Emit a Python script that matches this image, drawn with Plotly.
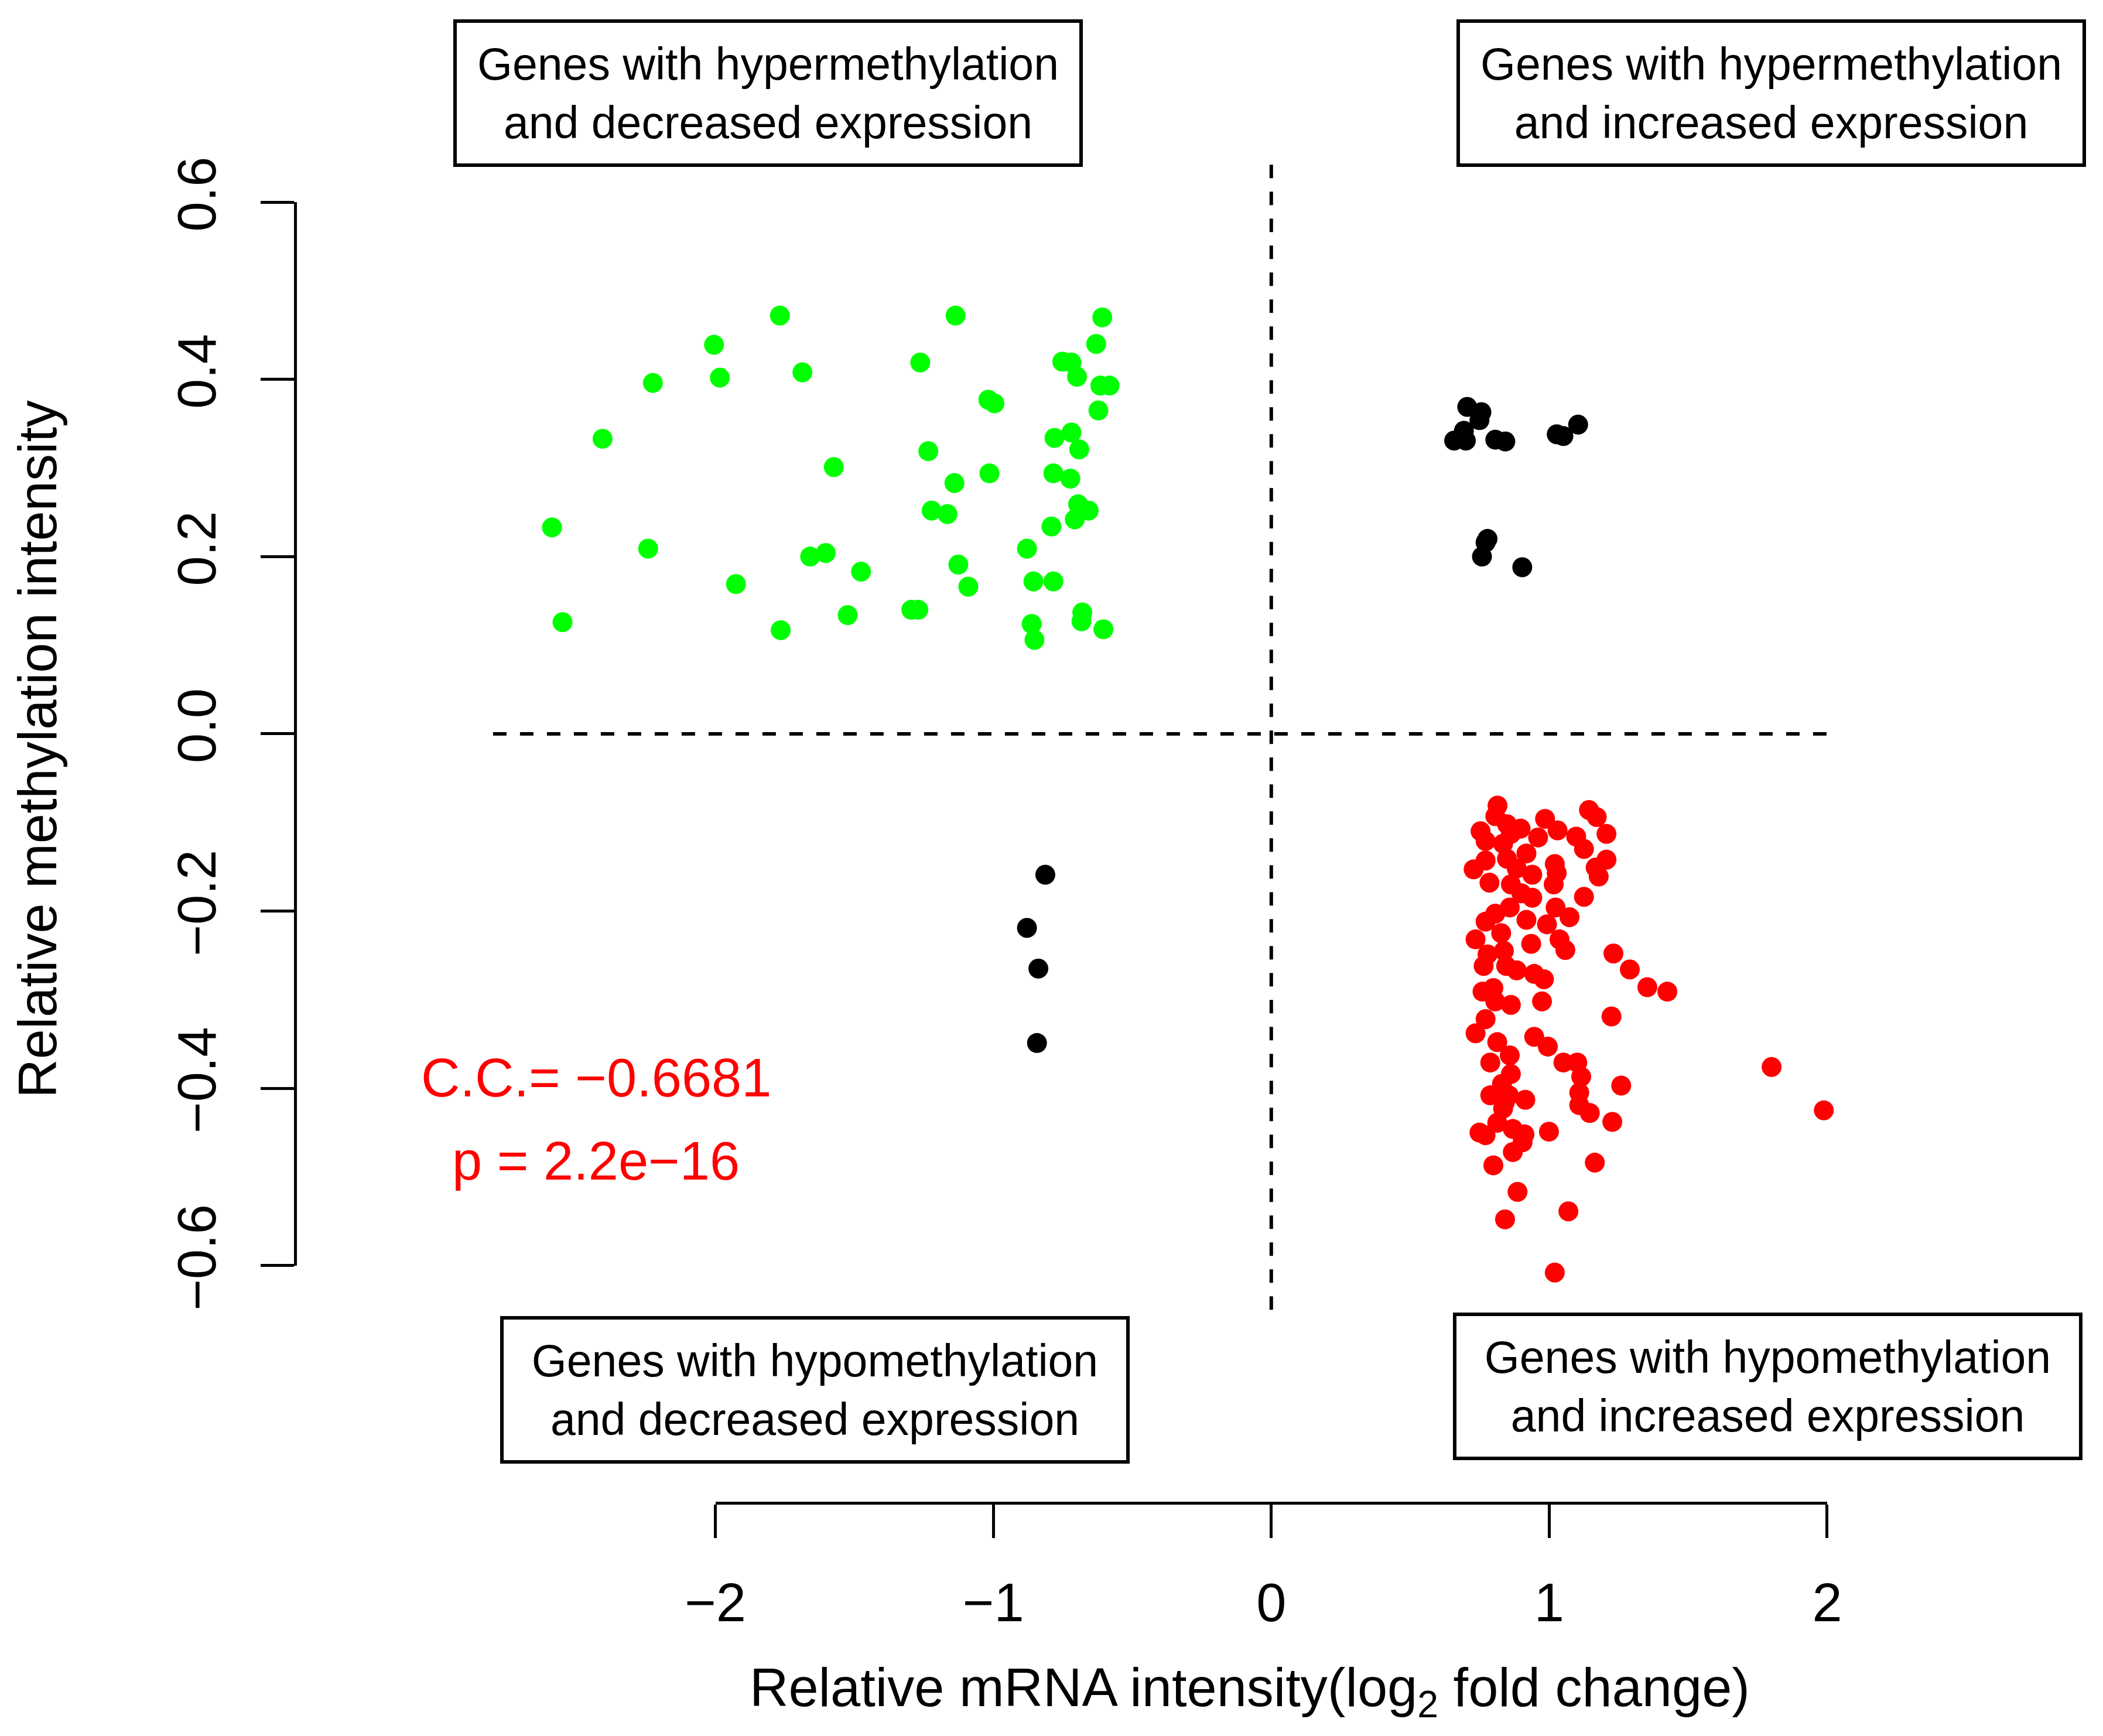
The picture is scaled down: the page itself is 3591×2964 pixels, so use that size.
import plotly.graph_objects as go

# hypermethylation / decreased expression (green)
green_x = [-1.768, -1.136, -0.608, -2.005, -0.630, -1.263, -0.752, -0.719, -0.699, -1.687,
           -1.984, -2.225, -0.615, -0.582, -1.018, -0.996, -0.622, -2.406, -0.780, -0.719,
           -0.691, -1.234, -1.574, -1.014, -0.784, -0.723, -1.140, -1.222, -1.165, -0.695,
           -0.657, -0.707, -0.791, -2.588, -2.242, -0.879, -1.659, -1.603, -1.476, -1.126,
           -1.926, -1.090, -0.856, -0.784, -1.295, -1.270, -1.524, -2.550, -1.765, -0.680,
           -0.683, -0.862, -0.852, -0.604]
green_y = [0.472, 0.472, 0.470, 0.439, 0.440, 0.419, 0.420, 0.419, 0.403, 0.408,
           0.402, 0.396, 0.393, 0.393, 0.377, 0.373, 0.365, 0.333, 0.334, 0.340,
           0.321, 0.319, 0.301, 0.294, 0.294, 0.288, 0.283, 0.252, 0.248, 0.259,
           0.252, 0.242, 0.234, 0.233, 0.209, 0.209, 0.200, 0.204, 0.183, 0.191,
           0.169, 0.166, 0.172, 0.172, 0.140, 0.140, 0.134, 0.126, 0.117, 0.137,
           0.127, 0.124, 0.106, 0.118]

# hypomethylation / increased expression (red)
red_x = [0.814, 0.806, 0.753, 0.771, 0.848, 0.897, 0.862, 0.985, 1.030, 1.097,
         1.125, 1.143, 1.171, 1.206, 1.206, 1.167, 1.178, 0.728, 0.771, 0.785,
         0.862, 0.848, 0.918, 0.960, 0.939, 0.939, 1.020, 1.027, 1.016, 1.125,
         0.858, 0.806, 0.771, 0.918, 1.023, 1.073, 0.992, 0.735, 0.827, 0.935,
         1.037, 1.058, 0.837, 0.778, 0.764, 0.883, 0.946, 0.981, 1.231, 1.290,
         1.353, 1.425, 0.799, 0.760, 0.862, 0.806, 0.974, 1.224, 0.771, 0.735,
         0.813, 0.946, 0.995, 0.858, 0.788, 1.051, 1.101, 0.862, 1.115, 0.830,
         0.788, 0.855, 0.914, 1.108, 1.108, 1.146, 0.834, 0.813, 0.749, 0.771,
         0.869, 0.911, 0.904, 0.869, 0.999, 1.259, 1.227, 1.164, 0.799, 0.886,
         1.069, 0.841, 1.020, 1.800, 1.988, 0.834, 0.883, 0.900, 0.845, 0.840]
red_y = [-0.081, -0.093, -0.110, -0.121, -0.102, -0.107, -0.113, -0.096, -0.109, -0.116,
         -0.130, -0.086, -0.094, -0.113, -0.142, -0.151, -0.161, -0.153, -0.143, -0.168,
         -0.170, -0.141, -0.135, -0.117, -0.159, -0.185, -0.147, -0.157, -0.170, -0.184,
         -0.196, -0.203, -0.212, -0.210, -0.196, -0.207, -0.215, -0.232, -0.225, -0.237,
         -0.232, -0.244, -0.245, -0.249, -0.262, -0.267, -0.271, -0.277, -0.248, -0.266,
         -0.286, -0.291, -0.287, -0.291, -0.306, -0.302, -0.302, -0.319, -0.322, -0.338,
         -0.348, -0.342, -0.353, -0.363, -0.371, -0.371, -0.371, -0.384, -0.387, -0.395,
         -0.408, -0.408, -0.413, -0.405, -0.419, -0.428, -0.423, -0.439, -0.450, -0.453,
         -0.446, -0.452, -0.461, -0.472, -0.449, -0.397, -0.438, -0.484, -0.487, -0.517,
         -0.539, -0.548, -0.608, -0.376, -0.425, -0.124, -0.152, -0.180, -0.262, -0.416]

# genes that go the same way (black)
black_x = [0.705, 0.756, 0.749, 0.693, 0.658, 0.700, 0.806, 0.842, 1.027, 1.051,
           1.104, 0.778, 0.771, 0.758, 0.903,
           -0.813, -0.879, -0.838, -0.843]
black_y = [0.369, 0.363, 0.354, 0.342, 0.331, 0.331, 0.332, 0.330, 0.338, 0.336,
           0.349, 0.220, 0.216, 0.200, 0.188,
           -0.159, -0.219, -0.265, -0.349]

# dashed quadrant lines
hline_x = [-2.80, 2.02]
vline_y = [-0.65, 0.65]

x_ticks = [-2, -1, 0, 1, 2]
x_labels = ['\u22122', '\u22121', '0', '1', '2']
y_ticks = [-0.6, -0.4, -0.2, 0.0, 0.2, 0.4, 0.6]
y_labels = ['\u22120.6', '\u22120.4', '\u22120.2', '0.0', '0.2', '0.4', '0.6']

cc_text = 'C.C.= \u22120.6681'
p_text = 'p = 2.2e\u221216'

FONT = 'Liberation Sans, Arial, sans-serif'
XR = [-3.512, 2.590]
YR = [-0.868, 0.696]

fig = go.Figure()

fig.add_trace(go.Scatter(x=hline_x, y=[0, 0], mode='lines',
                         line=dict(color='black', width=6, dash='23px,23px')))
fig.add_trace(go.Scatter(x=[0, 0], y=vline_y, mode='lines',
                         line=dict(color='black', width=6, dash='23px,23px')))

fig.add_trace(go.Scatter(x=green_x, y=green_y, mode='markers',
                         marker=dict(color='#00FF00', size=34)))
fig.add_trace(go.Scatter(x=black_x, y=black_y, mode='markers',
                         marker=dict(color='black', size=34)))
fig.add_trace(go.Scatter(x=red_x, y=red_y, mode='markers',
                         marker=dict(color='#FF0000', size=34)))

# invisible trace so the R-style axes (x2/y2) get drawn
fig.add_trace(go.Scatter(x=[x_ticks[0], x_ticks[-1]], y=[y_ticks[0], y_ticks[-1]],
                         mode='markers', marker=dict(opacity=0),
                         xaxis='x2', yaxis='y2', hoverinfo='skip'))

# axes only span first to last tick, like base R
xdom = [(t - XR[0]) / (XR[1] - XR[0]) for t in (x_ticks[0], x_ticks[-1])]
ydom = [(t - YR[0]) / (YR[1] - YR[0]) for t in (y_ticks[0], y_ticks[-1])]

# page body has an 8px margin, so the figure is 8px smaller on each side
fig.update_layout(
    width=3583, height=2956,
    margin=dict(l=496, r=191, t=192, b=398),
    paper_bgcolor='white', plot_bgcolor='rgba(0,0,0,0)',
    showlegend=False,
    font=dict(family=FONT, color='black'),
    xaxis=dict(range=XR, visible=False),
    yaxis=dict(range=YR, visible=False),
    xaxis2=dict(range=[x_ticks[0], x_ticks[-1]], domain=xdom, anchor='free', position=0,
                showline=True, linewidth=5, linecolor='black',
                ticks='outside', ticklen=57, tickwidth=5, tickcolor='black',
                tickvals=x_ticks, ticktext=x_labels, ticklabelstandoff=32,
                tickfont=dict(size=92, family=FONT),
                showgrid=False, zeroline=False),
    yaxis2=dict(range=[y_ticks[0], y_ticks[-1]], domain=ydom, anchor='free', position=0,
                showline=True, linewidth=5, linecolor='black',
                ticks='outside', ticklen=57, tickwidth=5, tickcolor='black',
                tickvals=y_ticks, ticktext=y_labels, tickangle=-90, ticklabelstandoff=40,
                tickfont=dict(size=92, family=FONT),
                showgrid=False, zeroline=False),
)

# axis titles
fig.add_annotation(text='Relative mRNA intensity(log<sub>2</sub> fold change)',
                   xref='paper', yref='paper', x=0.563, y=-0.136,
                   xanchor='center', yanchor='middle', showarrow=False,
                   font=dict(size=92, family=FONT))
fig.add_annotation(text='Relative methylation intensity', textangle=-90,
                   xref='paper', yref='paper', x=-0.152, y=0.544,
                   xanchor='center', yanchor='middle', showarrow=False,
                   font=dict(size=92, family=FONT))

# correlation text
fig.add_annotation(text=cc_text, x=-2.43, y=-0.388, showarrow=False,
                   font=dict(size=92, color='#FF0000', family=FONT))
fig.add_annotation(text=p_text, x=-2.43, y=-0.482, showarrow=False,
                   font=dict(size=92, color='#FF0000', family=FONT))

# quadrant boxes
boxes = [
    ('Genes with hypermethylation<br>and decreased expression', 0.2787, 1.0173),
    ('Genes with hypermethylation<br>and increased expression', 0.8705, 1.0173),
    ('Genes with hypomethylation<br>and decreased expression', 0.3066, 0.0816),
    ('Genes with hypomethylation<br>and increased expression', 0.8684, 0.0841),
]
for txt, bx, by in boxes:
    fig.add_annotation(text=txt, xref='paper', yref='paper', x=bx, y=by,
                       xanchor='center', yanchor='middle', showarrow=False,
                       width=1063, height=240, borderpad=0,
                       bordercolor='black', borderwidth=6, bgcolor='white',
                       font=dict(size=77, family=FONT))

fig.write_html("out.html")
